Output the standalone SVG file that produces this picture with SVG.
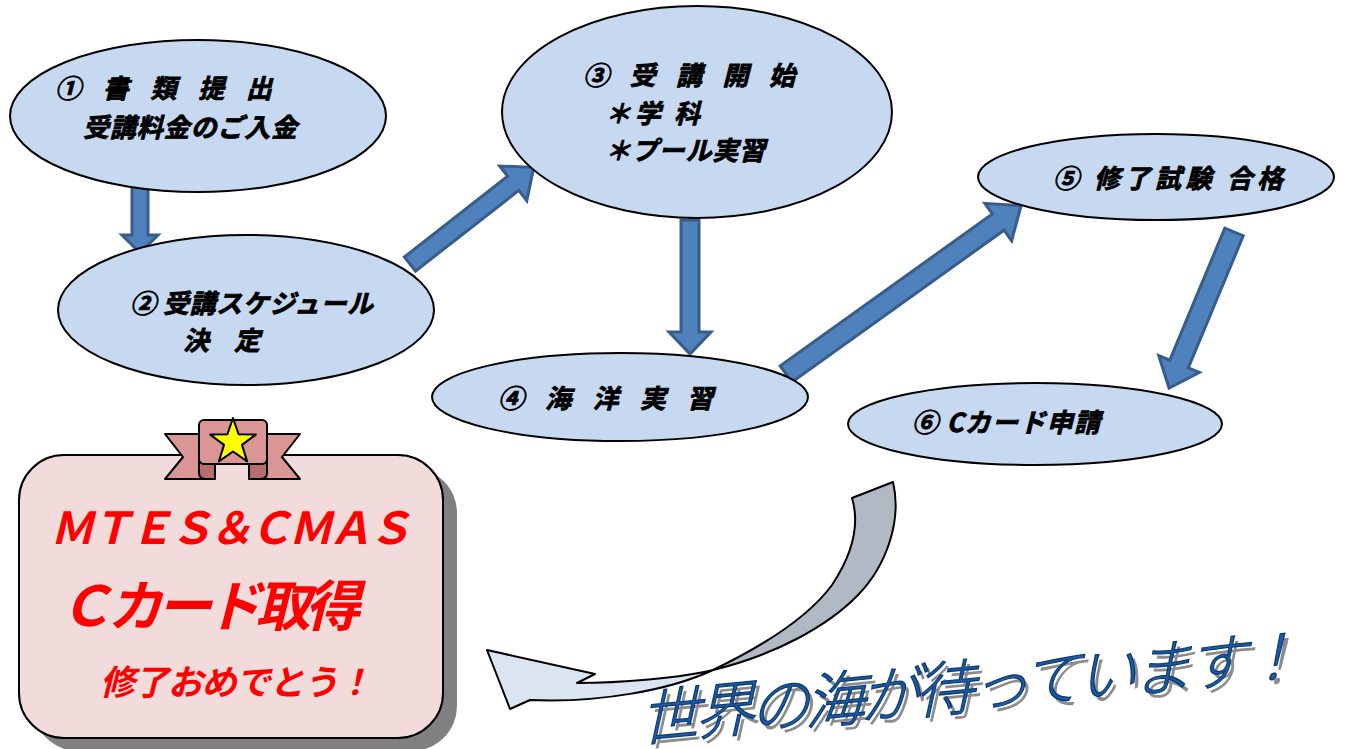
<svg xmlns="http://www.w3.org/2000/svg" width="1363" height="749" viewBox="0 0 1363 749">
<style>
.node ellipse{fill:#c6d9f1;stroke:#000;stroke-width:2}
.lbl{font-family:"Noto Sans CJK JP","Noto Sans",sans-serif;font-weight:bold;font-style:italic;font-size:26px;fill:#000;stroke:#000;stroke-width:0.8}
.conn path{fill:#4f81bd;stroke:#385d8a;stroke-width:3;stroke-linejoin:miter}
.red{font-family:"Liberation Sans","Noto Sans CJK JP",sans-serif;font-weight:bold;font-style:italic;fill:#ff0000}
.wa{font-family:"Noto Sans CJK JP",sans-serif;font-weight:300;font-size:60px}
</style>
<rect width="1363" height="749" fill="#fff"/>

<g class="conn" id="connectors">
<path transform="translate(140,176) rotate(90)" d="M0,-8 L59,-8 L59,-18 L77,0 L59,18 L59,8 L0,8 Z"/>
<path transform="translate(410,264) rotate(-38)" d="M0,-9 L131,-9 L131,-22 L157,0 L131,22 L131,9 L0,9 Z"/>
<path transform="translate(690,220) rotate(90)" d="M0,-9 L112,-9 L112,-21 L134,0 L112,21 L112,9 L0,9 Z"/>
<path transform="translate(786,374) rotate(-35.6)" d="M0,-10 L261,-10 L261,-23 L289,0 L261,23 L261,10 L0,10 Z"/>
<path transform="translate(1234,232) rotate(112.6)" d="M0,-10 L143,-10 L143,-22 L169,0 L143,22 L143,10 L0,10 Z"/>
</g>

<g class="node" id="n1">
<ellipse cx="198" cy="116" rx="188" ry="76"/>
<text class="lbl" x="55" y="98" textLength="217">① 書 類 提 出</text>
<text class="lbl" x="83" y="137" textLength="214">受講料金のご入金</text>
</g>
<g class="node" id="n2">
<ellipse cx="246" cy="310" rx="188" ry="75"/>
<text class="lbl" x="130" y="313" textLength="243">②  受講スケジュール</text>
<text class="lbl" x="183" y="350" textLength="77">決 定</text>
</g>
<g class="node" id="n3">
<ellipse cx="697" cy="112" rx="195" ry="106"/>
<text class="lbl" x="583" y="85" textLength="212">③ 受 講 開 始</text>
<text class="lbl" x="605" y="123" textLength="95">＊学 科</text>
<text class="lbl" x="605" y="160" textLength="160">＊プール実習</text>
</g>
<g class="node" id="n4">
<ellipse cx="620" cy="397" rx="188" ry="44"/>
<text class="lbl" x="498" y="408" textLength="215">④ 海 洋 実 習</text>
</g>
<g class="node" id="n5">
<ellipse cx="1156" cy="177" rx="178" ry="43"/>
<text class="lbl" x="1053" y="188" textLength="230">⑤  修了試験  合格</text>
</g>
<g class="node" id="n6">
<ellipse cx="1035" cy="424" rx="187" ry="41"/>
<text class="lbl" x="912" y="432" textLength="188">⑥  Cカード申請</text>
</g>

<g id="curved-arrow" stroke="#000" stroke-width="2" stroke-linejoin="round">
<path fill="#b1bac4" d="M852,498 L893,482 C902,520 887,565 858,595 C828,626 775,655 713,670 C765,645 810,615 832,585 C852,555 860,525 852,498 Z"/>
<path fill="#dbe5f1" d="M713,670 C680,678 620,683 577,683 L595,674 L487,650 L510,709 L530,700 C600,703 670,690 713,670 Z"/>
</g>

<g id="card">
<rect x="33" y="468" width="424" height="283" rx="45" fill="#808080"/>
<rect x="19" y="455" width="424" height="283" rx="45" fill="#f2dcdb" stroke="#000" stroke-width="2"/>
<text class="red" x="50" y="544" font-size="44" textLength="362">ＭＴＥＳ＆ＣＭＡＳ</text>
<text class="red" x="58" y="626" font-size="55" textLength="302">Ｃカード取得</text>
<text class="red" x="100" y="695" font-size="35" textLength="272">修了おめでとう！</text>
</g>

<g id="badge" stroke="#000" stroke-width="2" stroke-linejoin="round">
<polygon points="165,434 210,434 210,479 165,479 183,457" fill="#d99694"/>
<polygon points="300,434 256,434 256,479 300,479 282,457" fill="#d99694"/>
<path d="M199,456 L199,473 Q199,479 206,479 L215,479 L215,463 Z" fill="#b56f6d"/>
<path d="M267,456 L267,473 Q267,479 260,479 L249,479 L249,463 Z" fill="#b56f6d"/>
<rect x="199" y="420" width="68" height="44" rx="5" fill="#d99694"/>
<polygon points="233,418 238.6,434.3 255.8,434.6 242,444.9 247.1,461.4 233,451.5 218.9,461.4 224,444.9 210.2,434.6 227.4,434.3" fill="#ffff00"/>
</g>

<g id="slogan" transform="rotate(-5.5 645 742) skewX(-18) translate(237 0)">
<text class="wa" x="649" y="745" fill="#8c8c8c" textLength="665">世界の海が待っています！</text>
<text class="wa" x="644" y="740" fill="#1f5ca3" stroke="#0b3b75" stroke-width="1.3" textLength="665">世界の海が待っています！</text>
</g>
</svg>
